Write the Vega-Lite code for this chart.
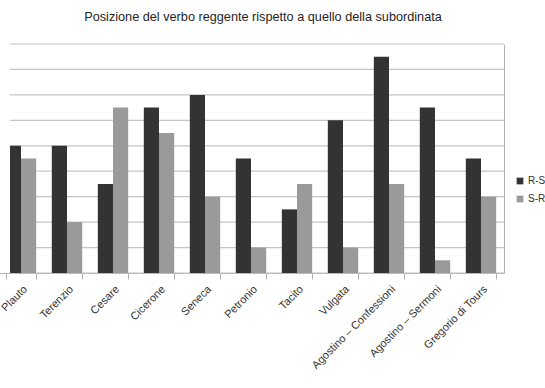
{
  "$schema": "https://vega.github.io/schema/vega-lite/v6.json",
  "autosize": {"type": "none"},
  "width": 494,
  "height": 229,
  "padding": {"left": 10, "top": 44, "right": 41, "bottom": 115},
  "background": "white",
  "config": {
    "font": "Liberation Sans",
    "view": {"stroke": null}
  },
  "title": {
    "text": "Posizione del verbo reggente rispetto a quello della subordinata",
    "fontSize": 12.7,
    "fontWeight": "normal",
    "color": "#1e1e1e",
    "anchor": "middle",
    "dx": 6,
    "offset": 20
  },
  "datasets": {
    "griglia": [
      {"livello": 0}, {"livello": 1}, {"livello": 2}, {"livello": 3}, {"livello": 4},
      {"livello": 5}, {"livello": 6}, {"livello": 7}, {"livello": 8}, {"livello": 9}
    ],
    "frequenze": [
      {"autore": "Plauto", "ordine": "R-S", "valore": 5},
      {"autore": "Plauto", "ordine": "S-R", "valore": 4.5},
      {"autore": "Terenzio", "ordine": "R-S", "valore": 5},
      {"autore": "Terenzio", "ordine": "S-R", "valore": 2},
      {"autore": "Cesare", "ordine": "R-S", "valore": 3.5},
      {"autore": "Cesare", "ordine": "S-R", "valore": 6.5},
      {"autore": "Cicerone", "ordine": "R-S", "valore": 6.5},
      {"autore": "Cicerone", "ordine": "S-R", "valore": 5.5},
      {"autore": "Seneca", "ordine": "R-S", "valore": 7},
      {"autore": "Seneca", "ordine": "S-R", "valore": 3},
      {"autore": "Petronio", "ordine": "R-S", "valore": 4.5},
      {"autore": "Petronio", "ordine": "S-R", "valore": 1},
      {"autore": "Tacito", "ordine": "R-S", "valore": 2.5},
      {"autore": "Tacito", "ordine": "S-R", "valore": 3.5},
      {"autore": "Vulgata", "ordine": "R-S", "valore": 6},
      {"autore": "Vulgata", "ordine": "S-R", "valore": 1},
      {"autore": "Agostino – Confessioni", "ordine": "R-S", "valore": 8.5},
      {"autore": "Agostino – Confessioni", "ordine": "S-R", "valore": 3.5},
      {"autore": "Agostino – Sermoni", "ordine": "R-S", "valore": 6.5},
      {"autore": "Agostino – Sermoni", "ordine": "S-R", "valore": 0.5},
      {"autore": "Gregorio di Tours", "ordine": "R-S", "valore": 4.5},
      {"autore": "Gregorio di Tours", "ordine": "S-R", "valore": 3}
    ]
  },
  "layer": [
    {
      "data": {"name": "griglia"},
      "mark": {"type": "rule", "color": "#c4c4c4", "strokeWidth": 1.2},
      "encoding": {
        "y": {"field": "livello", "type": "quantitative"}
      }
    },
    {
      "data": {"name": "frequenze"},
      "mark": {"type": "bar", "clip": true},
      "encoding": {
        "x": {
          "field": "autore",
          "type": "nominal",
          "sort": null,
          "scale": {"range": [-12, {"expr": "width"}], "paddingInner": 0.34, "paddingOuter": 0.17},
          "axis": {
            "title": null,
            "labelAngle": -45,
            "labelFontSize": 11,
            "labelColor": "#333333",
            "labelPadding": 4,
            "tickBand": "extent",
            "tickSize": 6,
            "tickColor": "#b0b0b0",
            "domainColor": "#b0b0b0",
            "grid": false
          }
        },
        "xOffset": {"field": "ordine", "type": "nominal", "scale": {"paddingInner": 0, "paddingOuter": 0}},
        "y": {
          "field": "valore",
          "type": "quantitative",
          "scale": {"domain": [0, 9], "nice": false},
          "axis": {
            "orient": "right",
            "title": null,
            "labels": false,
            "ticks": false,
            "grid": false,
            "domainColor": "#b0b0b0"
          }
        },
        "color": {
          "field": "ordine",
          "type": "nominal",
          "scale": {"domain": ["R-S", "S-R"], "range": ["#333333", "#9a9a9a"]},
          "legend": {
            "title": null,
            "orient": "none",
            "legendX": 505,
            "legendY": 132,
            "symbolType": "square",
            "symbolSize": 45,
            "symbolStrokeWidth": 0,
            "labelFontSize": 10,
            "labelColor": "#333333",
            "labelOffset": 3,
            "rowPadding": 8,
            "padding": 0
          }
        }
      }
    }
  ]
}
